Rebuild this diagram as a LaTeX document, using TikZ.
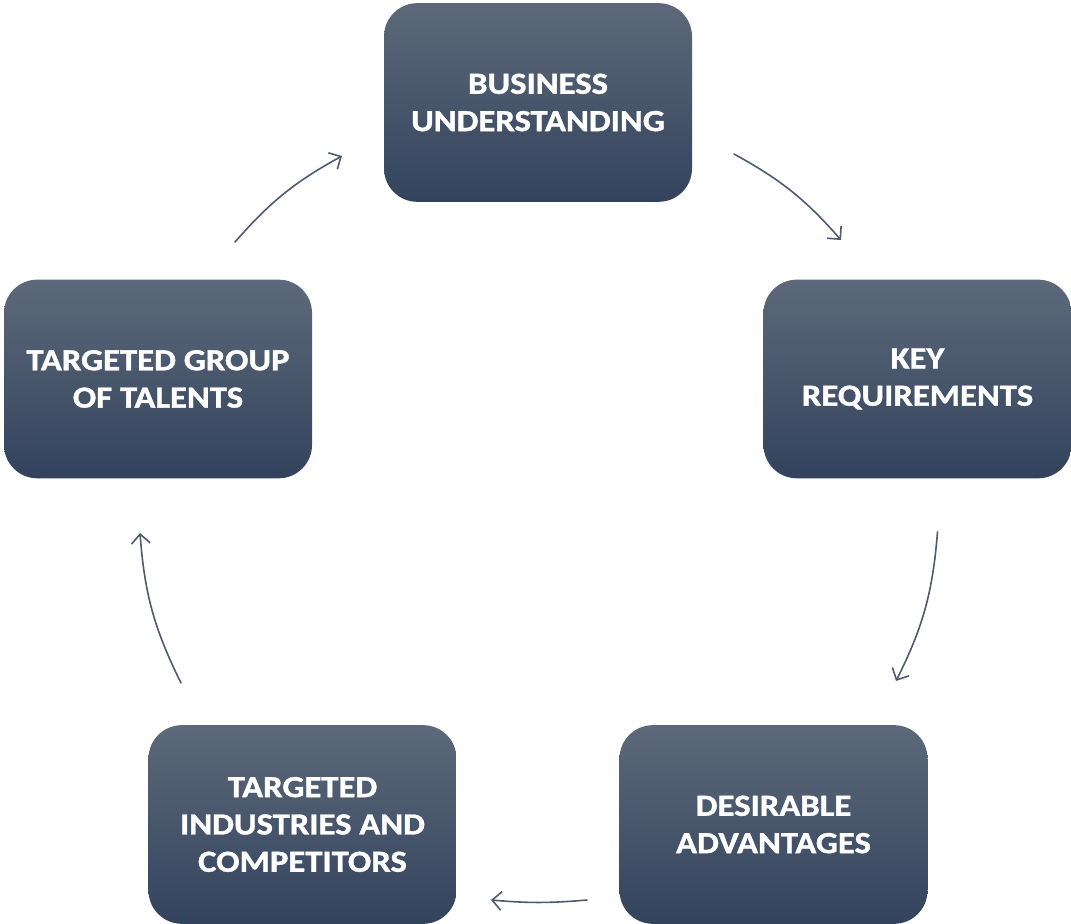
\documentclass[tikz,border=0pt]{standalone}
\usepackage{fontspec}
\setmainfont{Carlito}
\newfontfamily\boxfont[FakeStretch=1.13,FakeBold=1.2]{Carlito Bold}
\usetikzlibrary{arrows.meta,shadings}
\definecolor{boxtop}{RGB}{93,105,122}
\definecolor{boxbot}{RGB}{51,67,93}
\definecolor{arrowc}{RGB}{78,90,110}
\tikzset{
  stepbox/.style={rectangle, rounded corners=25pt, minimum width=231pt, minimum height=149pt,
    top color=boxtop, bottom color=boxbot, draw=none, text=white, align=center,
    font=\boxfont\fontsize{23}{28}\selectfont, inner sep=0pt},
  flow/.style={draw=arrowc, line width=1.2pt, line cap=round,
    -{Straight Barb[length=7pt,width=14pt,line width=1.2pt]}}
}
\begin{document}
\begin{tikzpicture}[x=0.75pt,y=0.75pt]
\useasboundingbox (0,0) rectangle (1071,924);
\node[stepbox] (bu) at (538,821.5) {BUSINESS\\UNDERSTANDING};
\node[stepbox] (kr) at (917.5,545) {KEY\\REQUIREMENTS};
\node[stepbox] (da) at (773.5,99.5) {DESIRABLE\\ADVANTAGES};
\node[stepbox] (ti) at (302.5,99.5) {TARGETED\\INDUSTRIES AND\\COMPETITORS};
\node[stepbox] (tg) at (158,545) {TARGETED GROUP\\OF TALENTS};
\coordinate (a1s) at (235,682);
\coordinate (a1e) at (342,768);
\coordinate (a2s) at (734,770);
\coordinate (a2e) at (841,684);
\coordinate (a3s) at (937.5,392);
\coordinate (a3e) at (896,243);
\coordinate (a4s) at (587,24);
\coordinate (a4e) at (491,24);
\coordinate (a5s) at (181,241);
\coordinate (a5e) at (140,391);
\draw[flow] (a1s) to[bend left=10] (a1e);
\draw[flow] (a2s) to[bend left=10] (a2e);
\draw[flow] (a3s) to[bend left=11] (a3e);
\draw[flow] (a4s) to[bend left=5] (a4e);
\draw[flow] (a5s) to[bend left=11] (a5e);
\end{tikzpicture}
\end{document}
